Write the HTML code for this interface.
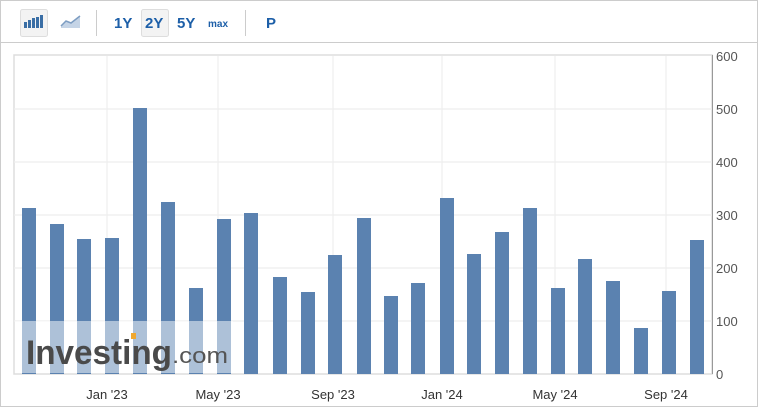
<!DOCTYPE html>
<html><head><style>
body{margin:0;background:#fff;font-family:"Liberation Sans",sans-serif;}
</style></head><body>
<svg width="758" height="407" xmlns="http://www.w3.org/2000/svg" font-family="Liberation Sans, sans-serif">
<rect x="0.5" y="0.5" width="757" height="406" fill="#fff" stroke="#ccc"/>
<line x1="0" y1="42.5" x2="758" y2="42.5" stroke="#ccc"/>
<rect x="20.5" y="9.5" width="27" height="27" rx="2" fill="#f3f3f3" stroke="#ddd"/>
<g fill="#3a6ea5"><rect x="24" y="22" width="3" height="6"/><rect x="28" y="20" width="3" height="8"/><rect x="32" y="18" width="3" height="10"/><rect x="36" y="17" width="3" height="11"/><rect x="40" y="15" width="3" height="13"/></g>
<path d="M61 26 L66 21 L71 23 L80 16 L80 28 L61 28Z" fill="#c5d4e6"/>
<path d="M61 26 L66 21 L71 23 L80 16" stroke="#7d9dc2" stroke-width="1.5" fill="none"/>
<line x1="96.5" y1="10" x2="96.5" y2="36" stroke="#ccc"/>
<rect x="141.5" y="9.5" width="27" height="27" rx="2" fill="#f3f3f3" stroke="#ddd"/>
<g fill="#1d5fa8" font-weight="bold" font-size="15">
<text x="114" y="28">1Y</text><text x="145" y="28">2Y</text><text x="177" y="28">5Y</text>
<text x="208" y="27" font-size="10">max</text><text x="266" y="28">P</text></g>
<line x1="245.5" y1="10" x2="245.5" y2="36" stroke="#ccc"/>
<rect x="14" y="55" width="698" height="319" fill="#fff" stroke="#ddd" stroke-width="1.5"/>
<g stroke="#eee" stroke-width="1.2">
<line x1="14" y1="109" x2="712" y2="109"/><line x1="14" y1="162" x2="712" y2="162"/><line x1="14" y1="215" x2="712" y2="215"/><line x1="14" y1="268" x2="712" y2="268"/><line x1="14" y1="321" x2="712" y2="321"/>
<line x1="107" y1="56" x2="107" y2="374"/><line x1="218" y1="56" x2="218" y2="374"/><line x1="333" y1="56" x2="333" y2="374"/><line x1="442" y1="56" x2="442" y2="374"/><line x1="555" y1="56" x2="555" y2="374"/><line x1="666" y1="56" x2="666" y2="374"/>
</g>
<g fill="#5b82b0">
<rect x="22" y="208" width="14" height="166"/>
<rect x="50" y="224" width="14" height="150"/>
<rect x="77" y="239" width="14" height="135"/>
<rect x="105" y="238" width="14" height="136"/>
<rect x="133" y="108" width="14" height="266"/>
<rect x="161" y="202" width="14" height="172"/>
<rect x="189" y="288" width="14" height="86"/>
<rect x="217" y="219" width="14" height="155"/>
<rect x="244" y="213" width="14" height="161"/>
<rect x="273" y="277" width="14" height="97"/>
<rect x="301" y="292" width="14" height="82"/>
<rect x="328" y="255" width="14" height="119"/>
<rect x="357" y="218" width="14" height="156"/>
<rect x="384" y="296" width="14" height="78"/>
<rect x="411" y="283" width="14" height="91"/>
<rect x="440" y="198" width="14" height="176"/>
<rect x="467" y="254" width="14" height="120"/>
<rect x="495" y="232" width="14" height="142"/>
<rect x="523" y="208" width="14" height="166"/>
<rect x="551" y="288" width="14" height="86"/>
<rect x="578" y="259" width="14" height="115"/>
<rect x="606" y="281" width="14" height="93"/>
<rect x="634" y="328" width="14" height="46"/>
<rect x="662" y="291" width="14" height="83"/>
<rect x="690" y="240" width="14" height="134"/>
</g>
<rect x="15" y="321" width="218" height="52" fill="#fff" opacity="0.5"/>
<text x="26" y="364" font-size="34" font-weight="bold" fill="#4a4a4a" textLength="146" lengthAdjust="spacingAndGlyphs">Investing</text>
<rect x="131" y="333" width="5" height="6" fill="#f0a830"/>
<text x="172" y="363" font-size="22" fill="#555" textLength="56" lengthAdjust="spacingAndGlyphs">.com</text>
<line x1="712.5" y1="55" x2="712.5" y2="374" stroke="#999"/>
<g font-size="13" fill="#555">
<text x="716" y="61">600</text><text x="716" y="114">500</text><text x="716" y="167">400</text><text x="716" y="220">300</text><text x="716" y="273">200</text><text x="716" y="326">100</text><text x="716" y="379">0</text>
</g>
<g font-size="13" fill="#333" text-anchor="middle">
<text x="107" y="399">Jan '23</text><text x="218" y="399">May '23</text><text x="333" y="399">Sep '23</text><text x="442" y="399">Jan '24</text><text x="555" y="399">May '24</text><text x="666" y="399">Sep '24</text>
</g>
</svg>
</body></html>
